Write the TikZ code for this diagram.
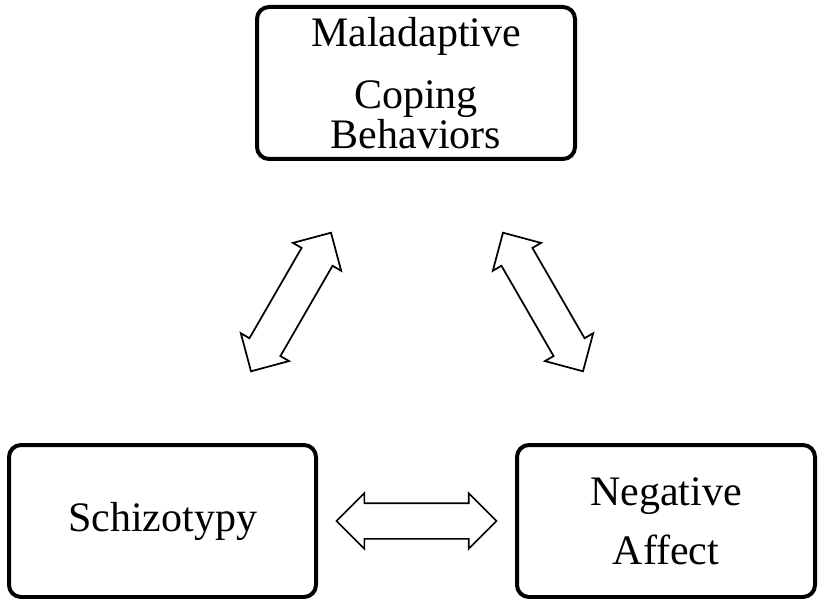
\documentclass[tikz,border=0pt]{standalone}
\usepackage{fontspec}
\setmainfont{Liberation Serif}
\usetikzlibrary{shapes.arrows,calc}
\begin{document}
\begin{tikzpicture}[x=0.75pt,y=-0.75pt,
  box/.style={draw=black,line width=3pt,rounded corners=9pt,inner sep=0pt,align=center,
    font=\fontsize{31.5}{30}\selectfont},
  darrow/.style={draw=black,line width=1.3pt,fill=white,double arrow,
    double arrow head extend=7.5pt,double arrow tip angle=90,
    minimum height=120pt,inner xsep=0pt,inner ysep=12.75pt}
]
\useasboundingbox (0,0) rectangle (818,599);
\node[box,minimum width=238.5pt,minimum height=114pt] (mcb) at (416,83)
  {Maladaptive\\[16.5pt]Coping\\Behaviors};
\node[box,minimum width=230.25pt,minimum height=114pt] (sch) at (162.5,521) {Schizotypy};
\node[box,minimum width=223.5pt,minimum height=114pt] (neg) at (666,521)
  {Negative\\[14.25pt]Affect};
\node[darrow,rotate=60] (a1) at (291,302) {};
\node[darrow,rotate=-60] (a2) at (543,302) {};
\node[darrow] (a3) at ($(sch.east)!0.5!(neg.west)$) {};
\end{tikzpicture}
\end{document}
